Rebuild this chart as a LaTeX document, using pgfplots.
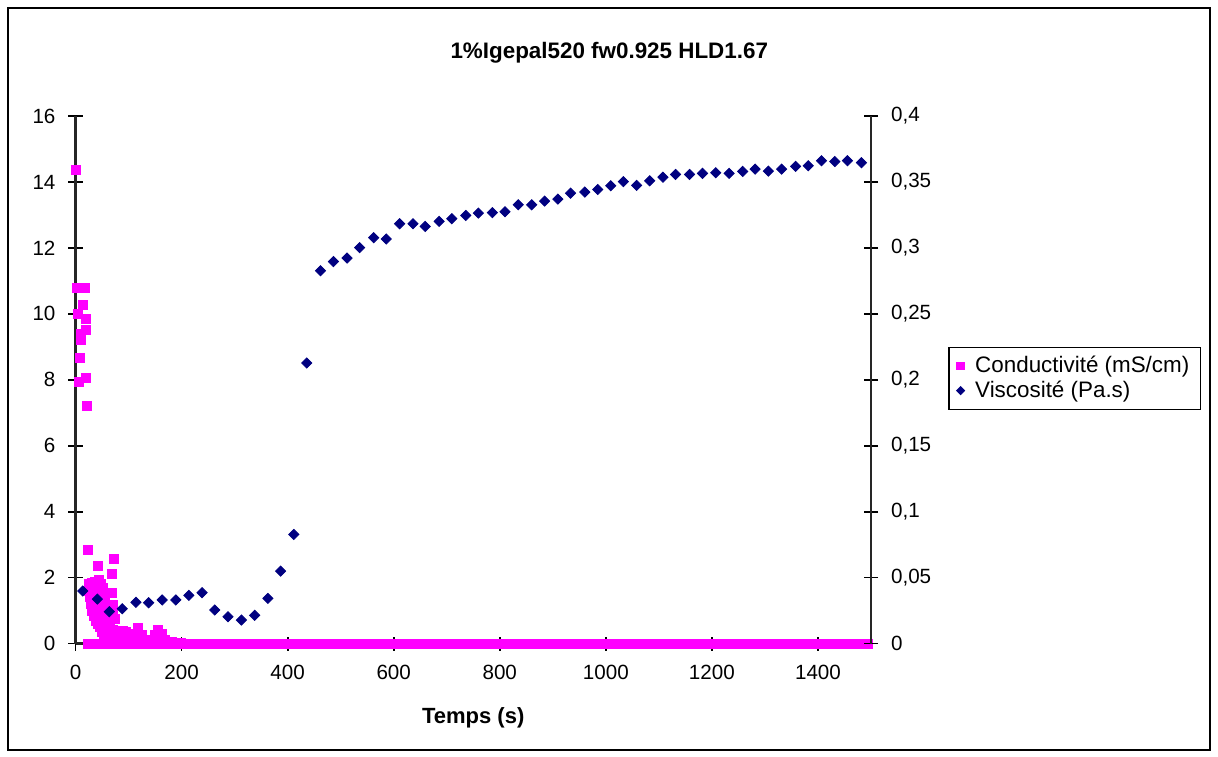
\documentclass[border=0pt]{standalone}
\usepackage{pgfplots}
\pgfplotsset{compat=1.18}
\usepackage{fontspec}
\setmainfont{Liberation Sans}
\definecolor{cmag}{RGB}{255,0,255}
\definecolor{cnavy}{RGB}{0,0,128}
\begin{document}
\begin{tikzpicture}
\useasboundingbox (0pt,0pt) rectangle (609pt,378pt);
\draw[line width=1.1pt] (4pt,3pt) rectangle (605pt,374pt);
\begin{axis}[
  at={(37.75pt,56.25pt)}, anchor=south west,
  scale only axis, width=397.75pt, height=263.75pt,
  xmin=0, xmax=1500, ymin=0, ymax=16,
  axis x line*=bottom, axis y line*=left,
  axis line style={-, line width=1.1pt, black!85},
  xtick={0,200,...,1400}, ytick={0,2,...,16},
  tick align=center, major tick length=7pt,
  tick style={black, line width=0.9pt},
  /pgf/number format/assume math mode=true,
  /pgf/number format/1000 sep={},
  ticklabel style={font=\fontsize{10.3}{12}\selectfont},
  xticklabel style={yshift=-4pt},
  yticklabel style={xshift=-3pt},
  clip=false,
  xlabel={\textbf{Temps (s)}},
  xlabel style={at={(axis description cs:0.5,-0.141)}, anchor=center, font=\fontsize{11}{13}\selectfont},
  every axis title shift=0pt,
  title={\textbf{1\%Igepal520 fw0.925 HLD1.67}},
  title style={at={(axis description cs:0.671,1.1194)}, anchor=center, font=\fontsize{11.2}{13}\selectfont},
]
\addplot[only marks, mark=square*, mark size=2.25pt, color=cmag, mark options={draw=cmag, fill=cmag}] coordinates {
(0.4,14.38) (3.4,10.79) (17.9,10.79) (14.7,10.26) (5.3,10.0) (19.8,9.85)
(9.8,9.40) (19.8,9.52) (9.8,9.2) (8.5,8.66) (7.2,7.93) (19.8,8.05) (22,7.20)
(23,0)
(23.6,2.83) (42.4,2.36) (72.6,2.58) (68.3,2.10) (44.9,1.92) (68.3,1.52) (71.3,1.17) (74.5,0.76)
(26,1.80) (31,1.85) (36,1.88) (41,1.85) (47,1.80) (51,1.70)
(26,1.6) (27,1.4) (29,1.2) (31,1.0) (34,0.85) (38,0.7) (42,0.6) (46,0.5) (50,0.35) (53,0.25) (57,0.2)
(35,1.6) (40,1.5) (45,1.4) (50,1.5) (55,1.3) (38,1.2) (43,1.1) (48,1.0) (53,0.9) (58,0.8)
(45,0.8) (50,0.7) (55,0.6) (60,0.55) (62,0.9) (65,0.6) (60,1.1) (66,1.0) (70,0.9)
(60,0.35) (65,0.38) (70,0.4) (75,0.35) (80,0.38) (85,0.35) (90,0.38) (95,0.35) (100,0.3)
(105,0.25) (110,0.3) (118.4,0.46) (125,0.25) (130,0.1) (135,0.12) (140,0.1) (145,0.1)
(150,0.25) (156.1,0.41) (162,0.3) (168,0.1) (175,0.05) (182,0.05) (190,0.03) (198,0.02)
(62,0.15) (72,0.15) (82,0.15) (92,0.15) (102,0.12) (112,0.15)
(40,0) (55,0) (70,0) (85,0) (100,0) (115,0) (130,0) (145,0) (160,0) (175,0) (190,0)
(205,0) (220,0) (235,0) (250,0) (265,0) (280,0) (295,0) (310,0) (325,0) (340,0) (355,0)
(370,0) (385,0) (400,0) (415,0) (430,0) (445,0) (460,0) (475,0) (490,0) (505,0) (520,0)
(535,0) (550,0) (565,0) (580,0) (595,0) (610,0) (625,0) (640,0) (655,0) (670,0) (685,0)
(700,0) (715,0) (730,0) (745,0) (760,0) (775,0) (790,0) (805,0) (820,0) (835,0) (850,0)
(865,0) (880,0) (895,0) (910,0) (925,0) (940,0) (955,0) (970,0) (985,0) (1000,0) (1015,0)
(1030,0) (1045,0) (1060,0) (1075,0) (1090,0) (1105,0) (1120,0) (1135,0) (1150,0) (1165,0)
(1180,0) (1195,0) (1210,0) (1225,0) (1240,0) (1255,0) (1270,0) (1285,0) (1300,0) (1315,0)
(1330,0) (1345,0) (1360,0) (1375,0) (1390,0) (1405,0) (1420,0) (1435,0) (1450,0) (1465,0)
(1480,0) (1495,0)
};
\end{axis}
\begin{axis}[
  at={(37.75pt,56.25pt)}, anchor=south west,
  scale only axis, width=397.75pt, height=263.75pt,
  xmin=0, xmax=1500, ymin=0, ymax=0.4,
  axis y line*=right, axis x line=none,
  axis line style={-, line width=1.1pt, black!85},
  ytick={0,0.05,0.1,0.15,0.2,0.25,0.3,0.35,0.4},
  yticklabels={0,{0,05},{0,1},{0,15},{0,2},{0,25},{0,3},{0,35},{0,4}},
  tick align=center, major tick length=7pt,
  tick style={black, line width=0.9pt},
  ticklabel style={font=\fontsize{10.3}{12}\selectfont},
  yticklabel style={xshift=3pt},
  clip=false,
  legend style={at={(axis description cs:1.097,0.5627)}, anchor=north west,
    draw=black, line width=0.7pt, font=\fontsize{11.2}{13}\selectfont,
    inner xsep=4pt, inner ysep=3pt, row sep=-0.5pt, column sep=4pt,
    nodes={inner sep=1.5pt}},
  legend cell align=left,
  legend image code/.code={\draw[#1] plot coordinates {(0pt,0pt)};},
]
\addlegendimage{only marks, mark=square*, mark size=1.7pt, color=cmag, mark options={draw=cmag, fill=cmag}}
\addlegendentry{Conductivité (mS/cm)}
\addlegendimage{only marks, mark=square*, mark size=1.3pt, color=cnavy, mark options={rotate=45, draw=cnavy, fill=cnavy}}
\addlegendentry{Viscosité (Pa.s)}
\addplot[only marks, forget plot, mark=square*, mark size=1.8pt, color=cnavy, mark options={rotate=45, draw=cnavy, fill=cnavy}] coordinates {
(13.7,0.0398) (41.2,0.0337) (63.8,0.0241) (88.2,0.0264) (114.0,0.0312) (137.9,0.0309)
(163.4,0.0330) (189.2,0.0330) (213.6,0.0365) (238.7,0.0385) (262.6,0.0254) (287.6,0.0203)
(312.8,0.0178) (337.8,0.0214) (362.8,0.0342) (386.7,0.0549) (411.7,0.0827) (436.1,0.2127)
(461.9,0.2827) (486.4,0.2896) (512.1,0.2923) (535.8,0.3002) (562.2,0.3077) (586.0,0.3067)
(611.1,0.3183) (636.3,0.3183) (659.4,0.3163) (685.7,0.3201) (709.6,0.3221) (736.0,0.3246)
(759.6,0.3264) (786.0,0.3267) (809.9,0.3274) (834.9,0.3327) (860.1,0.3327) (884.5,0.3355)
(909.5,0.3370) (933.4,0.3415) (960.3,0.3423) (984.8,0.3443) (1009.2,0.3471) (1033.1,0.3502)
(1058.1,0.3474) (1082.6,0.3509) (1107.6,0.3536) (1131.5,0.3557) (1157.8,0.3557) (1182.2,0.3565)
(1207.3,0.3570) (1232.5,0.3565) (1258.1,0.3580) (1281.4,0.3597) (1306.4,0.3582) (1331.4,0.3597)
(1357.7,0.3618) (1381.6,0.3623) (1406.6,0.3661) (1431.8,0.3655) (1455.5,0.3661) (1481.9,0.3646)
};
\end{axis}
\end{tikzpicture}
\end{document}
